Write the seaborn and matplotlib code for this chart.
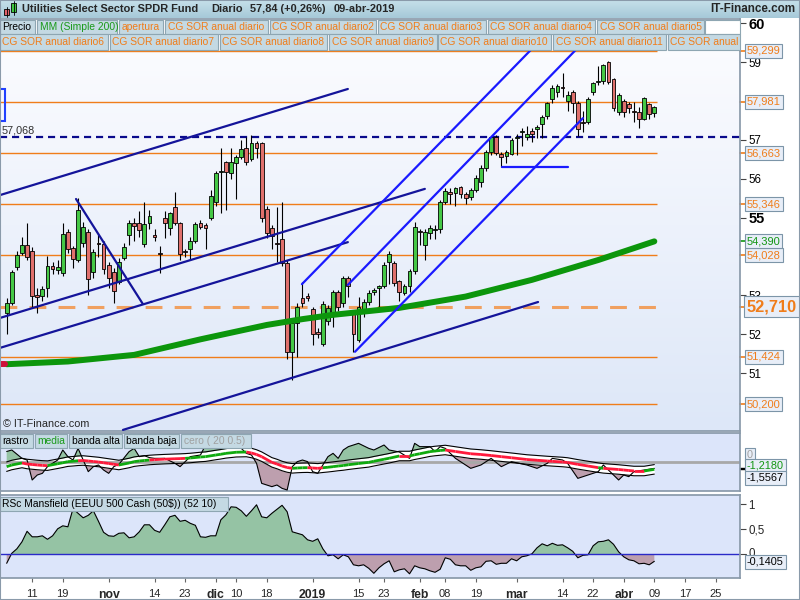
import numpy as np
import pandas as pd
import matplotlib
matplotlib.use('Agg')
import matplotlib.pyplot as plt
import matplotlib.transforms as mtransforms
from matplotlib.patches import Rectangle
from matplotlib.collections import LineCollection
from matplotlib.colors import LinearSegmentedColormap
import seaborn as sns

sns.set_theme(style='white')
plt.rcParams['font.family'] = ['Liberation Sans', 'DejaVu Sans']

# ---------------- datos ----------------
feriados = ['2018-11-22', '2018-12-05', '2018-12-25', '2019-01-01', '2019-01-21', '2019-02-18']

apertura = [52.54, 52.80, 53.74, 54.08, 54.30, 54.15, 53.01, 52.99, 53.18, 53.76,
            53.65, 53.57, 54.62, 54.21, 53.91, 54.36, 54.64, 53.60, 54.32, 54.31,
            53.78, 53.59, 53.35, 53.97, 54.55, 54.87, 54.86, 54.32, 54.86, 54.55,
            54.07, 54.98, 54.73, 55.28, 54.86, 54.13, 54.19, 54.41, 54.86, 54.80,
            54.98, 55.39, 56.18, 56.42, 56.16, 56.40, 56.55, 56.78, 56.50, 56.91,
            56.91, 55.21, 54.73, 54.34, 54.45, 53.84, 51.55, 52.28, 52.93, 52.99,
            52.64, 52.07, 51.75, 52.33, 52.54, 53.08, 52.80, 53.46, 52.54, 51.85,
            52.54, 52.82, 53.09, 53.18, 53.23, 53.85, 53.83, 53.37, 53.05, 53.23,
            53.63, 54.66, 54.30, 54.61, 54.67, 54.70, 55.41, 55.63, 55.64, 55.78,
            55.61, 55.52, 55.71, 55.91, 56.27, 56.68, 57.07, 56.64, 56.59, 56.64,
            57.04, 57.21, 57.07, 57.22, 57.27, 57.41, 57.62, 58.05, 58.24, 58.35,
            57.99, 58.22, 57.94, 57.45, 57.45, 58.24, 58.49, 58.52, 59.01, 58.56,
            57.73, 57.99, 57.93, 57.73, 57.73, 57.53, 57.93, 57.70]
maximo = [52.93, 53.65, 54.15, 54.51, 54.86, 54.25, 53.20, 53.25, 54.01, 53.85,
          53.90, 54.87, 54.70, 54.28, 55.50, 54.90, 54.70, 54.20, 54.60, 54.40,
          53.85, 53.70, 53.95, 54.35, 54.94, 55.00, 55.16, 55.41, 55.20, 54.70,
          54.26, 55.16, 55.15, 55.65, 54.90, 54.20, 54.50, 54.90, 54.95, 54.85,
          55.70, 56.20, 56.78, 56.45, 56.78, 56.60, 57.00, 57.08, 57.13, 56.96,
          56.95, 55.30, 54.80, 55.28, 55.41, 53.90, 52.35, 52.80, 53.35, 53.05,
          52.70, 52.15, 52.85, 52.75, 53.15, 53.15, 53.50, 53.50, 52.60, 52.95,
          52.90, 53.15, 53.20, 53.28, 53.85, 54.15, 53.88, 53.40, 53.30, 53.68,
          54.90, 54.70, 54.70, 54.80, 54.80, 55.45, 55.75, 55.75, 55.80, 55.82,
          55.65, 55.75, 56.10, 56.35, 56.75, 57.10, 57.12, 56.70, 56.75, 57.05,
          57.15, 57.30, 57.35, 57.30, 57.38, 57.65, 57.98, 58.40, 58.45, 58.71,
          58.25, 58.28, 58.00, 57.75, 58.10, 58.50, 58.89, 58.95, 59.03, 58.60,
          58.20, 58.05, 57.98, 57.98, 57.85, 58.10, 57.96, 57.88]
minimo = [52.02, 52.75, 53.65, 54.05, 53.90, 52.71, 52.54, 52.85, 52.97, 53.55,
          53.55, 53.50, 54.10, 53.70, 53.85, 54.25, 53.01, 53.45, 54.00, 53.55,
          53.18, 52.80, 53.30, 53.90, 54.30, 54.40, 54.50, 54.25, 54.70, 54.40,
          53.57, 54.47, 54.55, 54.80, 53.91, 54.00, 53.91, 54.35, 54.70, 54.19,
          54.95, 55.30, 55.11, 55.20, 56.00, 55.47, 56.50, 56.35, 56.45, 56.53,
          54.90, 54.47, 54.19, 53.87, 53.75, 51.36, 50.82, 51.42, 52.70, 52.85,
          51.72, 51.90, 51.70, 52.25, 52.20, 52.60, 52.70, 52.95, 51.55, 51.80,
          52.45, 52.75, 53.00, 52.70, 53.20, 53.30, 53.25, 52.85, 53.00, 53.10,
          53.55, 54.30, 53.90, 54.45, 54.45, 54.60, 55.35, 55.35, 55.30, 55.50,
          55.35, 55.45, 55.65, 55.80, 56.20, 56.60, 56.60, 56.30, 56.40, 56.60,
          56.60, 56.85, 57.00, 56.95, 57.05, 57.05, 57.55, 57.95, 58.10, 58.10,
          57.75, 57.70, 57.10, 57.20, 57.40, 58.15, 58.40, 58.45, 58.45, 57.75,
          57.65, 57.60, 57.70, 57.45, 57.30, 57.50, 57.55, 57.58]
cierre = [52.81, 53.61, 54.04, 54.30, 53.98, 52.99, 52.95, 53.16, 53.76, 53.68,
          53.74, 54.57, 54.19, 53.93, 55.20, 54.77, 53.41, 54.11, 54.31, 53.67,
          53.44, 53.12, 53.87, 54.24, 54.86, 54.79, 54.67, 54.83, 55.04, 54.49,
          54.06, 54.86, 55.11, 54.86, 54.07, 54.12, 54.41, 54.83, 54.77, 54.73,
          55.56, 56.14, 56.19, 56.18, 56.42, 56.55, 56.77, 56.42, 56.91, 56.78,
          54.98, 54.60, 54.53, 54.31, 53.83, 51.55, 52.28, 52.71, 52.81, 52.93,
          52.01, 52.01, 52.77, 52.67, 53.08, 52.71, 53.44, 53.24, 52.02, 52.71,
          52.84, 53.07, 53.14, 53.23, 53.78, 54.07, 53.31, 53.08, 53.24, 53.63,
          54.75, 54.62, 54.64, 54.73, 54.68, 55.40, 55.69, 55.62, 55.76, 55.61,
          55.50, 55.71, 56.01, 56.29, 56.68, 57.07, 56.66, 56.57, 56.68, 57.00,
          57.08, 57.22, 57.15, 57.14, 57.32, 57.58, 57.94, 58.33, 58.39, 58.34,
          58.16, 57.94, 57.27, 57.44, 58.04, 58.46, 58.50, 58.93, 58.50, 57.81,
          58.16, 57.73, 57.81, 57.72, 57.53, 58.07, 57.66, 57.84]

mm200_idx = [0, 12, 25, 38, 51, 58, 64, 77, 90, 103, 116, 127]
mm200 = [51.23, 51.30, 51.47, 51.87, 52.24, 52.39, 52.50, 52.68, 52.97, 53.40, 53.91, 54.39]

niveles_sor = [59.299, 57.981, 56.663, 55.346, 54.028, 51.424, 50.200]
nivel_apertura = 52.710
resistencia = 57.068

# lineas de tendencia: (indice0, precio0, indice1, precio1)
lineas_navy = [(-1.31, 55.58, 66.9, 58.31),
               (-1.31, 52.42, 82.0, 55.74),
               (-1.31, 51.65, 66.9, 54.37),
               (22.8, 49.54, 104.2, 52.83),
               (13.6, 55.48, 26.7, 52.78)]
lineas_azul = [(57.9, 53.29, 103.2, 59.37),
               (66.9, 53.27, 112.0, 59.37),
               (68.3, 51.55, 113.0, 57.56),
               (97.1, 56.30, 110.1, 56.30)]

# panel rastro / media / bandas
ind_idx = [0, 1, 3, 4, 5, 6, 7, 8, 10, 11, 12, 13, 14, 15, 16, 17, 18, 19, 20, 21,
           22, 24, 25, 26, 27, 28, 29, 31, 33, 34, 35, 36, 38, 39, 41, 42, 43, 45, 47, 48,
           49, 50, 52, 53, 54, 55, 56, 57, 58, 59, 60, 61, 62, 63, 64, 65, 66, 67, 69, 71,
           72, 74, 75, 77, 79, 80, 81, 83, 84, 85, 86, 88, 91, 93, 95, 97, 99, 102, 104, 106,
           107, 109, 110, 112, 114, 116, 117, 120, 121, 122, 123, 125, 127]
rastro = [2.1, 2.4, 0.73, 0.4, -3.6, -2.6, -2.27, -0.93, 0.4, 2.4, 1.07, 0.4, 2.73, 0.4, -1.93, -0.93, -0.6, -1.6, -2.27, -0.93,
          -0.47, 2.07, 2.73, 1.07, 1.27, 0.87, 0.73, 0.73, -0.27, -0.93, 0.07, 1.07, 1.4, 3.4, 4.4, 3.73, 4.4, 3.73, 1.73, 1.4,
          -0.27, -4.27, -4.93, -4.6, -5.27, -5.6, -0.93, 0.07, 0.4, 0.07, -1.93, -2.27, -0.6, 1.07, 1.73, 0.73, 2.4, 3.07, 3.73, 2.73,
          2.4, 3.4, 2.4, 2.0, 0.73, 3.73, 3.07, 3.07, 2.07, 3.07, 2.73, 0.73, -1.27, -0.6, 0.73, -0.93, 0.07, -0.6, -1.27, -0.27,
          0.73, 0.4, -0.27, -3.27, -2.6, -1.93, -0.6, -3.6, -2.6, -2.93, -1.93, -1.6, -1.27]
media = [-0.93, -0.6, -0.2, -0.4, -0.5, -0.6, -0.68, -0.73, -0.35, -0.15, 0.07, 0.15, 0.25, 0.30, 0.2, 0.1, 0.0, -0.15, -0.3, -0.45,
         -0.6, -0.2, 0.07, 0.2, 0.3, 0.40, 0.47, 0.57, 0.65, 0.68, 0.73, 0.8, 1.0, 1.07, 1.4, 1.55, 1.73, 1.95, 2.0, 1.8,
         1.5, 1.07, -0.07, -0.4, -0.8, -1.1, -1.27, -1.2, -1.15, -1.13, -1.2, -1.27, -1.15, -1.05, -0.93, -0.8, -0.7, -0.55, -0.3, -0.07,
         0.15, 0.55, 0.75, 1.2, 1.2, 1.45, 1.65, 2.07, 2.2, 2.3, 2.4, 2.1, 1.65, 1.5, 1.3, 1.07, 0.85, 0.5, 0.35, 0.2,
         0.13, 0.0, -0.1, -0.47, -0.8, -1.13, -1.27, -1.5, -1.6, -1.7, -1.8, -1.8, -1.47]
media_bajista = [(2, 8), (14, 22), (28, 35), (46, 56), (59, 62), (77, 79), (86, 116), (117, 125)]
ancho_banda = 0.95
ultimo_media = -1.2180
ultimo_rastro = -1.5567

# RSc Mansfield
rsc = [-0.18, 0.02, 0.11, 0.25, 0.46, 0.35, 0.35, 0.37, 0.30, 0.37,
       0.51, 0.57, 0.55, 0.91, 0.82, 0.73, 0.78, 0.87, 0.66, 0.44,
       0.37, 0.36, 0.42, 0.43, 0.33, 0.35, 0.45, 0.59, 0.59, 0.48,
       0.44, 0.59, 0.75, 0.78, 0.66, 0.68, 0.62, 0.58, 0.35, 0.34,
       0.37, 0.37, 0.69, 0.79, 0.95, 0.94, 0.87, 0.76, 0.87, 0.99,
       0.75, 0.73, 0.82, 0.90, 0.98, 0.85, 0.45, 0.42, 0.39, 0.29,
       0.26, 0.31, 0.11, -0.03, -0.01, -0.09, -0.01, -0.05, -0.21, -0.23,
       -0.21, -0.28, -0.38, -0.27, -0.19, -0.13, -0.35, -0.31, -0.29, -0.39,
       -0.23, -0.27, -0.29, -0.33, -0.36, -0.30, -0.07, -0.10, -0.21, -0.23,
       -0.23, -0.32, -0.27, -0.25, -0.14, -0.13, -0.20, -0.18, -0.18, -0.09,
       -0.13, -0.05, -0.03, 0.01, 0.13, 0.21, 0.17, 0.22, 0.18, 0.19,
       0.13, 0.06, -0.07, -0.02, -0.01, 0.17, 0.25, 0.26, 0.29, 0.20,
       0.05, -0.05, -0.11, -0.13, -0.19, -0.18, -0.21, -0.1405]

ticks_fechas = ['2018-10-11', '2018-10-19', '2018-11-01', '2018-11-14', '2018-11-23', '2018-12-03',
                '2018-12-10', '2018-12-18', '2019-01-02', '2019-01-15', '2019-01-23', '2019-02-01',
                '2019-02-08', '2019-02-19', '2019-03-01', '2019-03-14', '2019-03-22', '2019-04-01',
                '2019-04-09', '2019-04-17', '2019-04-25']
ticks_etiquetas = ['11', '19', 'nov', '14', '23', 'dic', '10', '18', '2019', '15', '23', 'feb',
                   '08', '19', 'mar', '14', '22', 'abr', '09', '17', '25']
meses = ['nov', 'dic', '2019', 'feb', 'mar', 'abr']

# calendario de sesiones
dias = pd.bdate_range('2018-10-04', '2019-04-09')
dias = dias[~dias.isin(pd.to_datetime(feriados))]
calendario = dias.append(pd.bdate_range('2019-04-10', '2019-04-30'))
ticks_pos = [calendario.get_loc(pd.Timestamp(f)) for f in ticks_fechas]

# ---------------- figura ----------------
W, H = 800, 600
XMIN, XMAX = -1.31, 143.8
NARANJA = '#f07d1a'
VERDE_AREA = '#95c3a4'
MALVA_AREA = '#bd9fae'
BORDE = '#8a9aaa'


def coma(v, dec):
    return f'{v:.{dec}f}'.replace('.', ',')


def caja(x0, y0, x1, y1):
    return [x0 / W, 1 - y1 / H, (x1 - x0) / W, (y1 - y0) / H]


def boton(fig, x0, y0, x1, y1, texto, color, fc='#c4d9e3'):
    fig.add_artist(Rectangle((x0 / W, 1 - y1 / H), (x1 - x0) / W, (y1 - y0) / H,
                             transform=fig.transFigure, fc=fc, ec='#8ea6b2', lw=0.8, zorder=10))
    if texto:
        fig.text((x0 + 2.5) / W, 1 - (y0 + y1) / 2 / H, texto, color=color, fontsize=7.4,
                 va='center', ha='left', zorder=11)


def etiqueta(fig, x, y, texto, color='black', size=7.8, weight='normal'):
    fig.text(x / W, 1 - y / H, texto, color=color, fontsize=size, fontweight=weight,
             va='center', ha='left', zorder=12,
             bbox=dict(boxstyle='square,pad=0.22', fc='#e8eef8', ec='#7c95a8', lw=0.8))


fig = plt.figure(figsize=(8, 6), dpi=100, facecolor='white')

# barra de titulo
ax_t = fig.add_axes(caja(0, 0, 800, 18))
ax_t.imshow(np.linspace(0, 1, 50).reshape(-1, 1), aspect='auto', extent=(0, 800, 18, 0),
            cmap=LinearSegmentedColormap.from_list('t', ['#c6e0ea', '#a6c9d8']))
ax_t.set_xlim(0, 800)
ax_t.set_ylim(18, 0)
ax_t.axis('off')
ax_t.add_patch(Rectangle((4, 9), 5, 6, fc='#e0606a', ec='black', lw=0.6))
ax_t.plot([6.5, 6.5], [7, 17], color='black', lw=0.6)
ax_t.add_patch(Rectangle((11, 3), 5, 9, fc='#40c840', ec='black', lw=0.6))
ax_t.plot([13.5, 13.5], [1, 15], color='black', lw=0.6)
for x, t in [(22, 'Utilities Select Sector SPDR Fund'), (211, 'Diario'),
             (250, '57,84 (+0,26%)'), (334, '09-abr-2019')]:
    ax_t.text(x, 9.5, t, fontsize=7.9, fontweight='bold', va='center', ha='left')
ax_t.text(795, 9.5, 'IT-Finance.com', fontsize=8.4, fontweight='bold', va='center', ha='right')

# ---- panel principal ----
ax = fig.add_axes(caja(0, 19, 740, 431))
ax.imshow(np.linspace(0, 1, 256).reshape(-1, 1), aspect='auto', extent=(0, 1, 0, 1),
          transform=ax.transAxes, zorder=0,
          cmap=LinearSegmentedColormap.from_list('f', ['#fdfdff', '#dde7f8']))

idx = np.arange(len(cierre))
o, h, l, c = map(np.array, (apertura, maximo, minimo, cierre))
fin = idx[-1] + 0.5

ax.hlines(niveles_sor, XMIN, fin, color=NARANJA, lw=1, zorder=2)
ax.plot([XMIN, fin], [nivel_apertura, nivel_apertura], color='#f0a060', lw=2.2,
        dashes=[5.5, 4], zorder=2)
ax.axhline(resistencia, color='#0a0a8c', lw=1.6, dashes=[3.2, 2.2], zorder=3)

colores = np.where(c >= o, '#45c845', '#e0706c')
ax.vlines(idx, l, h, color='black', lw=0.8, zorder=4)
ax.bar(idx, np.maximum(np.abs(c - o), 0.03), bottom=np.minimum(o, c), width=0.74,
       color=colores, edgecolor='black', linewidth=0.6, zorder=5)

sns.lineplot(x=mm200_idx, y=mm200, ax=ax, color='#0c960c', lw=4.3, zorder=6)
ax.plot([XMIN, -0.3], [mm200[0], mm200[0]], color='#d0103a', lw=4.3, zorder=6)

for i0, p0, i1, p1 in lineas_navy:
    ax.plot([i0, i1], [p0, p1], color='#14149a', lw=1.6, zorder=7)
for i0, p0, i1, p1 in lineas_azul:
    ax.plot([i0, i1], [p0, p1], color='#1a1aff', lw=1.6, zorder=7)
ax.add_patch(Rectangle((-4, 57.49), 3.7, 0.82, fill=False, ec='#2040ff', lw=1.5, zorder=7))

ax.set_xlim(XMIN, XMAX)
ax.set_ylim(49.512, 60.11)
ax.set_xticks([])
ax.yaxis.tick_right()
ax.set_yticks([51, 52, 53, 55, 56, 57, 59, 60])
ax.set_yticklabels(['51', '52', '53', '55', '56', '57', '59', '60'])
ax.tick_params(axis='y', right=True, length=4, width=0.8, color='#444444', pad=2,
               labelsize=8.3, labelcolor='black')
for lab in ax.get_yticklabels():
    if lab.get_text() in ('55', '60'):
        lab.set_fontweight('bold')
        lab.set_fontsize(10.5)
for s in ax.spines.values():
    s.set_color(BORDE)

trans = mtransforms.blended_transform_factory(ax.transAxes, ax.transData)
for p in niveles_sor + [nivel_apertura]:
    grande = p == nivel_apertura
    ax.plot([1.0, 1.008], [p, p], transform=trans, color=NARANJA, lw=1.2, clip_on=False)
    ax.text(1.009, p, coma(p, 3), transform=trans, color=NARANJA,
            fontsize=11.8 if grande else 8, fontweight='bold' if grande else 'normal',
            va='center', ha='left', clip_on=False, zorder=12,
            bbox=dict(boxstyle='square,pad=0.18', fc='#e8eef8', ec='#7c95a8', lw=0.8))
ax.plot([1.0, 1.008], [mm200[-1], mm200[-1]], transform=trans, color='#129612', lw=1.2, clip_on=False)
ax.text(1.009, mm200[-1], coma(mm200[-1], 3), transform=trans, color='#129612',
        fontsize=8, va='center', ha='left', clip_on=False, zorder=12,
        bbox=dict(boxstyle='square,pad=0.18', fc='#e8eef8', ec='#7c95a8', lw=0.8))

ax.annotate(coma(resistencia, 3), xy=(0, resistencia), xycoords=trans,
            xytext=(1, 5), textcoords='offset points', fontsize=7.8, color='#303030', va='center')
ax.text(0.004, 0.017, '© IT-Finance.com', transform=ax.transAxes, fontsize=7.8, va='center', zorder=8)

# ---- panel rastro ----
ax1 = fig.add_axes(caja(0, 433, 740, 491))
ax1.set_facecolor('#dce5fa')
ri, r, m = np.array(ind_idx), np.array(rastro), np.array(media)
ax1.fill_between(ri, r, m, where=r >= m, interpolate=True, color=VERDE_AREA, lw=0, zorder=1)
ax1.fill_between(ri, r, m, where=r < m, interpolate=True, color=MALVA_AREA, lw=0, zorder=1)
sns.lineplot(x=ri, y=r, ax=ax1, color='black', lw=0.8, zorder=3)
ax1.fill_between(ri, m - ancho_banda, m + ancho_banda, color='white', lw=0, zorder=2)
ax1.axhline(0, color='#a8a8a8', lw=2, zorder=2.5)
ax1.plot(ri, m + ancho_banda, color='black', lw=0.8, zorder=3)
ax1.plot(ri, m - ancho_banda, color='black', lw=0.8, zorder=3)
segs = [[(ri[k], m[k]), (ri[k + 1], m[k + 1])] for k in range(len(ri) - 1)]
seg_col = ['#ff1a3c' if any(a <= ri[k] < b for a, b in media_bajista) else '#0faa0f'
           for k in range(len(ri) - 1)]
ax1.add_collection(LineCollection(segs, colors=seg_col, lw=2, zorder=4))
ax1.set_xlim(XMIN, XMAX)
ax1.set_ylim(-5.8, 5.8)
ax1.set_xticks([])
ax1.set_yticks([])
for s in ax1.spines.values():
    s.set_color(BORDE)
t1 = mtransforms.blended_transform_factory(ax1.transAxes, ax1.transData)
for v in (media[-1], rastro[-1]):
    ax1.plot([1.0, 1.008], [v, v], transform=t1, color='black', lw=1, clip_on=False)

# ---- panel RSc Mansfield ----
ax2 = fig.add_axes(caja(0, 495, 740, 578))
ax2.set_facecolor('#dce5fa')
x2, v2 = np.arange(len(rsc)), np.array(rsc)
ax2.fill_between(x2, v2, 0, where=v2 >= 0, interpolate=True, color=VERDE_AREA, lw=0)
ax2.fill_between(x2, v2, 0, where=v2 < 0, interpolate=True, color=MALVA_AREA, lw=0)
sns.lineplot(x=x2, y=v2, ax=ax2, color='black', lw=0.8)
ax2.axhline(0, color='#2a2ac8', lw=1)
ax2.set_xlim(XMIN, XMAX)
ax2.set_ylim(-0.474, 1.186)
ax2.yaxis.tick_right()
ax2.set_yticks([0.5, 1])
ax2.set_yticklabels(['0,5', '1'])
ax2.tick_params(axis='y', right=True, length=4, width=0.8, color='#444444', pad=2, labelsize=8.3)
ax2.set_xticks(ticks_pos)
ax2.set_xticklabels(ticks_etiquetas)
ax2.tick_params(axis='x', bottom=True, length=3, width=0.8, color='#666666', pad=5, labelsize=8)
for lab in ax2.get_xticklabels():
    if lab.get_text() in meses:
        lab.set_fontweight('bold')
        lab.set_fontsize(8.8)
for s in ax2.spines.values():
    s.set_color(BORDE)
t2 = mtransforms.blended_transform_factory(ax2.transAxes, ax2.transData)
ax2.plot([1.0, 1.008], [0, 0], transform=t2, color='#444444', lw=0.8, clip_on=False)
ax2.text(1.012, 0.0, '0', transform=t2, fontsize=8.3, va='center', ha='left', clip_on=False)

# ---- leyendas ----
fila1 = [(0, 35, 'Precio', 'black'), (37, 117, 'MM (Simple 200)', '#1a9a1a'),
         (119, 163, 'apertura', NARANJA), (165, 268, 'CG SOR anual diario', NARANJA),
         (270, 376, 'CG SOR anual diario2', NARANJA), (378, 486, 'CG SOR anual diario3', NARANJA),
         (488, 595, 'CG SOR anual diario4', NARANJA), (597, 704, 'CG SOR anual diario5', NARANJA)]
for x0, x1, t, col in fila1:
    boton(fig, x0, 19.5, x1, 34, t, col)
boton(fig, 705, 19.5, 740, 34, '', 'black', fc='white')
fila2 = [(0, 108, 'CG SOR anual diario6'), (110, 218, 'CG SOR anual diario7'),
         (220, 327, 'CG SOR anual diario8'), (329, 437, 'CG SOR anual diario9'),
         (438, 551, 'CG SOR anual diario10'), (553, 666, 'CG SOR anual diario11'),
         (668, 740, 'CG SOR anual')]
for x0, x1, t in fila2:
    boton(fig, x0, 34, x1, 49.5, t, NARANJA)

fila3 = [(0, 33, 'rastro', 'black'), (35, 67, 'media', '#1a9a1a'), (69, 122, 'banda alta', 'black'),
         (124, 179, 'banda baja', 'black'), (181, 251, 'cero ( 20 0.5)', '#a0a0a0')]
for x0, x1, t, col in fila3:
    boton(fig, x0, 434, x1, 447.5, t, col)
boton(fig, 0, 497, 228, 511, 'RSc Mansfield (EEUU 500 Cash (50$)) (52 10)', 'black')

etiqueta(fig, 747, 455, '0', color='#a0a0a0')
etiqueta(fig, 747, 466, coma(ultimo_media, 4), color='#129612')
etiqueta(fig, 747, 478, coma(ultimo_rastro, 4))
etiqueta(fig, 747, 562, coma(rsc[-1], 4))

fig.add_artist(Rectangle((0, 0), 1, 1, transform=fig.transFigure, fill=False, ec=BORDE, lw=1.5, zorder=20))

fig.savefig('out.png', dpi=100, facecolor=fig.get_facecolor())
